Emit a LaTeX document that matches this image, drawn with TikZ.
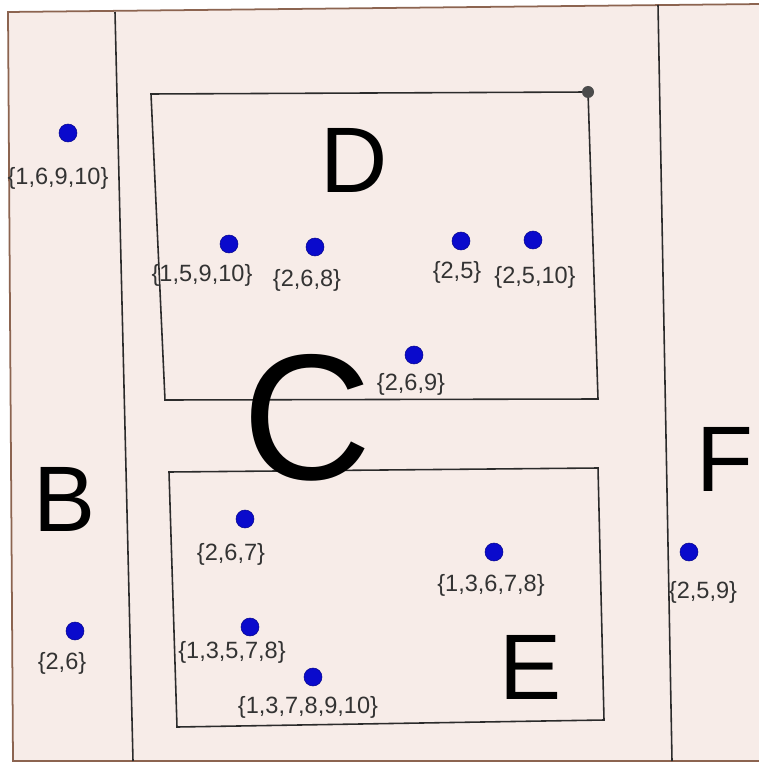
\documentclass[tikz,border=0pt]{standalone}
\usepackage{fontspec}
\setmainfont{Liberation Sans}
\definecolor{paperpink}{HTML}{F7ECE8}
\definecolor{framebrown}{HTML}{8C6450}
\definecolor{pointblue}{HTML}{0A0ACC}
\definecolor{labelgray}{HTML}{333333}
\definecolor{edgegray}{HTML}{2B2B2B}
\usepackage{tikz}

\begin{document}
\begin{tikzpicture}[x=0.02cm, y=-0.02cm,
		pt/.style={circle, fill=pointblue, draw=pointblue!70!black, line width=0.3pt, inner sep=0pt, minimum size=0.36cm},
		setlabel/.style={text=labelgray, inner sep=0pt, font=\fontsize{13.4}{16}\selectfont},
		region/.style={text=black, inner sep=0pt, font=\fontsize{53}{58}\selectfont},
		border/.style={draw=edgegray, line width=0.9pt}
	]
	\useasboundingbox (0,0) rectangle (758,763);
	\fill[white] (0,0) rectangle (758,763);
	\coordinate (ftl) at (8,12);
	\coordinate (ftr) at (762,4);
	\coordinate (fbr) at (762,761);
	\coordinate (fbl) at (13,761);
	\filldraw[fill=paperpink, draw=framebrown, line width=1pt] (ftl) -- (ftr) -- (fbr) -- (fbl) -- cycle;
	\coordinate (bctop) at (115,12);
	\coordinate (bcbot) at (133,761);
	\coordinate (cftop) at (658,5);
	\coordinate (cfbot) at (672,761);
	\draw[border] (bctop) -- (bcbot);
	\draw[border] (cftop) -- (cfbot);
	\coordinate (dtl) at (151,94);
	\coordinate (dtr) at (588,92);
	\coordinate (dbr) at (598,399);
	\coordinate (dbl) at (165,400);
	\draw[border] (dtl) -- (dtr) -- (dbr) -- (dbl) -- cycle;
	\node[circle, fill=edgegray!85, inner sep=0pt, minimum size=0.24cm] (dcorner) at (dtr) {};
	\coordinate (etl) at (169,472);
	\coordinate (etr) at (598,468);
	\coordinate (ebr) at (604,720);
	\coordinate (ebl) at (177,727);
	\draw[border] (etl) -- (etr) -- (ebr) -- (ebl) -- cycle;
	\foreach \nm/\px/\py/\lx/\ly/\txt in {
			p1/68/133/58/178/{\{1,6,9,10\}},
			p2/229/244/202/275/{\{1,5,9,10\}},
			p3/315/247/307/280/{\{2,6,8\}},
			p4/461/241/457/272/{\{2,5\}},
			p5/533/240/535/277/{\{2,5,10\}},
			p6/414/355/411/384/{\{2,6,9\}},
			p7/245/519/231/554/{\{2,6,7\}},
			p8/494/552/491/585/{\{1,3,6,7,8\}},
			p9/250/627/232/652/{\{1,3,5,7,8\}},
			p10/313/677/308/707/{\{1,3,7,8,9,10\}},
			p11/75/631/62/663/{\{2,6\}},
			p12/689/552/703/592/{\{2,5,9\}}} {
			\node[pt] (\nm) at (\px,\py) {};
			\node[setlabel] (\nm-lbl) at (\lx,\ly) {\txt};
		}
	\node[region] (regB) at (65,499) {B};
	\node[region] (regD) at (354,160) {D};
	\node[region] (regE) at (531,667) {E};
	\node[region] (regF) at (725,459) {F};
	\node[region, font=\fontsize{102}{106}\selectfont] (regC) at (307,418) {C};
\end{tikzpicture}
\end{document}
